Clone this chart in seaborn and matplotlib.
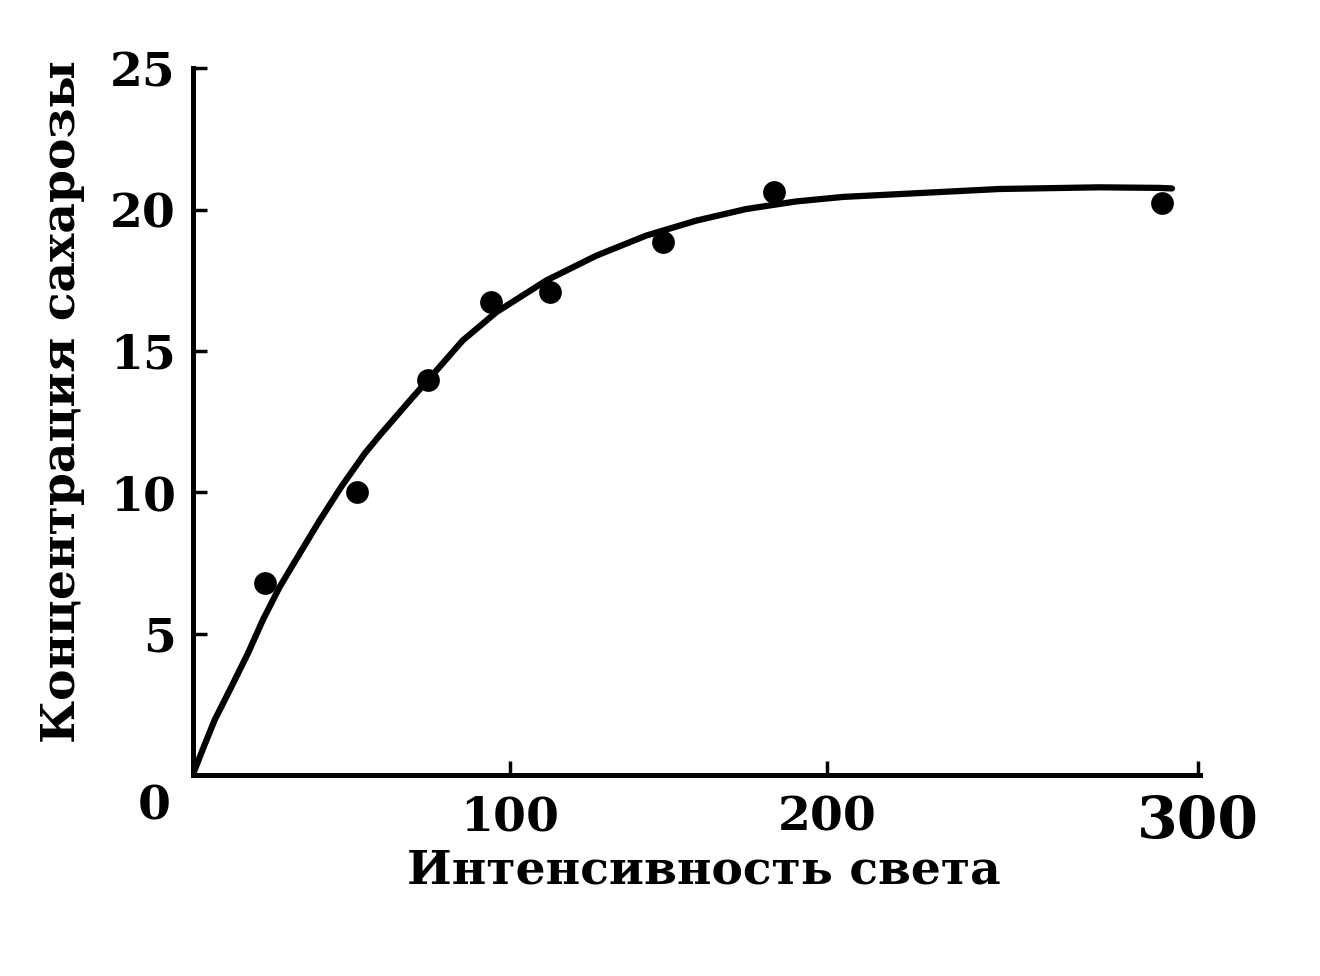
import pandas as pd
import matplotlib
matplotlib.use('Agg')
import matplotlib.pyplot as plt
import seaborn as sns

# measured points (light intensity, sucrose concentration)
light = [22.7, 51.7, 74.1, 94.1, 112.6, 148.1, 183.3, 305.6]
sucrose = [6.8, 10.0, 13.96, 16.72, 17.08, 18.85, 20.61, 20.25]

# points
curve_x = [0, 3.5, 6.9, 12.2, 17.4, 22.1, 27.4, 33.7, 40, 46.8, 54.2, 58.9, 69.4, 74.1,
           85.1, 95.7, 111.4, 127.2, 142.9, 158.7, 174.4, 190.2, 205, 222.7, 254.2,
           285.7, 304.6, 308.7]
curve_y = [0, 1.0, 1.94, 3.12, 4.3, 5.48, 6.65, 7.83, 9.0, 10.19, 11.37, 12.01, 13.37, 13.96,
           15.37, 16.37, 17.49, 18.37, 19.08, 19.61, 20.02, 20.29, 20.45, 20.55, 20.73,
           20.79, 20.77, 20.75]

x_ticks = [100, 200, 317]
x_labels = ['100', '200', '300']
y_ticks = [5, 10, 15, 20, 25]

points = pd.DataFrame({'x': light, 'y': sucrose})
curve = pd.DataFrame({'x': curve_x, 'y': curve_y})

sns.set_style('white')
plt.rcParams['font.family'] = ['DejaVu Serif']
plt.rcParams['font.weight'] = 'bold'
plt.rcParams['xtick.direction'] = 'in'
plt.rcParams['ytick.direction'] = 'in'
plt.rcParams['xtick.bottom'] = True
plt.rcParams['ytick.left'] = True
plt.rcParams['xtick.major.size'] = 10
plt.rcParams['ytick.major.size'] = 10
plt.rcParams['xtick.major.width'] = 2.5
plt.rcParams['ytick.major.width'] = 2.5
plt.rcParams['xtick.major.pad'] = 14
plt.rcParams['ytick.major.pad'] = 12
plt.rcParams['xtick.color'] = 'black'
plt.rcParams['ytick.color'] = 'black'

fig = plt.figure(figsize=(13.2, 9.76), dpi=100)
ax = fig.add_axes([0.146, 0.206, 0.763, 0.724])

sns.lineplot(data=curve, x='x', y='y', sort=False, estimator=None,
             color='black', linewidth=4.5, ax=ax)
sns.scatterplot(data=points, x='x', y='y', color='black', s=230,
                edgecolor='black', zorder=3, ax=ax)

ax.set_xlim(0, 317.5)
ax.set_ylim(0, 25)
ax.set_xticks(x_ticks)
ax.set_xticklabels(x_labels)
ax.set_yticks(y_ticks)
ax.tick_params(axis='both', labelsize=34)
ax.get_xticklabels()[-1].set_fontsize(42)

for side in ['top', 'right']:
    ax.spines[side].set_visible(False)
for side in ['left', 'bottom']:
    ax.spines[side].set_linewidth(3.6)
    ax.spines[side].set_color('black')

ax.set_xlabel('Интенсивность света', fontsize=34, fontweight='bold', color='black')
ax.set_ylabel('Концентрация сахарозы', fontsize=34, fontweight='bold', color='black')
ax.xaxis.set_label_coords(0.508, -0.103)
ax.yaxis.set_label_coords(-0.107, 0.528)

# shared zero at the corner
ax.text(-0.038, -0.045, '0', transform=ax.transAxes, fontsize=34,
        fontweight='bold', ha='center', va='center', color='black')

fig.savefig('out.png', dpi=100, facecolor='white')
